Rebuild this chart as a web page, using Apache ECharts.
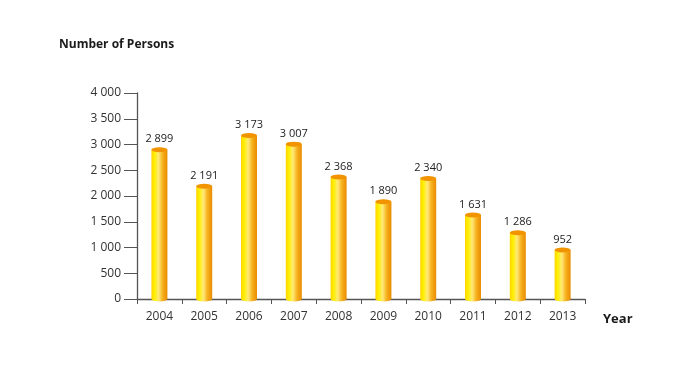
<!DOCTYPE html>
<html><head><meta charset="utf-8">
<script src="https://cdn.jsdelivr.net/npm/echarts@6/dist/echarts.min.js"></script>
<style>html,body{margin:0;padding:0;background:#fff}#c{width:700px;height:385px}</style>
</head><body><div id="c"></div>
<script>
var years = ['2004','2005','2006','2007','2008','2009','2010','2011','2012','2013'];
var persons = [2899, 2191, 3173, 3007, 2368, 1890, 2340, 1631, 1286, 952];
var yTicks = [0, 500, 1000, 1500, 2000, 2500, 3000, 3500, 4000];

function fmt(v){ return String(v).replace(/\B(?=(\d{3})+(?!\d))/g, ' '); }
var font = '"Open Sans", "Noto Sans", sans-serif';
var grad = function(){ return new echarts.graphic.LinearGradient(0,0,1,0,[
  {offset:0, color:'#FFD400'},
  {offset:0.2, color:'#FFF000'},
  {offset:0.45, color:'#FFE97A'},
  {offset:0.7, color:'#F6B21E'},
  {offset:1, color:'#E98A00'}
]); };
var chart = echarts.init(document.getElementById('c'));
chart.setOption({
  animation: false,
  backgroundColor: '#fff',
  textStyle: {fontFamily: font},
  title: {text: 'Number of Persons', left: 54, top: 34,
    textStyle: {fontSize: 12, fontWeight: 'bold', color: '#1a1a1a', fontFamily: font}},
  grid: {left: 137, top: 93, right: 115, bottom: 86},
  xAxis: {
    type: 'category', data: years, name: 'Year', nameLocation: 'end', nameGap: 18,
    nameTextStyle: {fontSize: 13, fontWeight: 'bold', color: '#1a1a1a', verticalAlign: 'top', padding: [14,0,0,0]},
    axisLine: {lineStyle: {color: '#555', width: 1.3}},
    axisTick: {show: true, length: 5, lineStyle: {color: '#555'}},
    axisLabel: {fontSize: 12, color: '#333', margin: 12}
  },
  yAxis: {
    type: 'value', min: 0, max: 4000, interval: 500,
    axisLine: {show: true, lineStyle: {color: '#555', width: 1.3}},
    axisTick: {show: true, length: 13, lineStyle: {color: '#555'}},
    splitLine: {show: false},
    axisLabel: {fontSize: 12, color: '#333', margin: 16, formatter: function(v){ return fmt(v); }}
  },
  series: [
    {
      type: 'bar', data: persons, barWidth: 16, z: 2,
      itemStyle: {color: grad()},
      label: {show: true, position: 'top', distance: 5, fontSize: 11, color: '#222',
        formatter: function(p){ return fmt(p.value); }}
    },
    {
      type: 'pictorialBar', data: persons, symbol: 'circle', symbolSize: [16, 5],
      symbolPosition: 'end', symbolOffset: [0, '-50%'], z: 3,
      itemStyle: {color: '#F29400'}
    },
    {
      type: 'pictorialBar', data: persons, symbol: 'circle', symbolSize: [16, 5],
      symbolPosition: 'start', symbolOffset: [0, '50%'], z: 1,
      itemStyle: {color: grad()}
    }
  ]
});
</script></body></html>
